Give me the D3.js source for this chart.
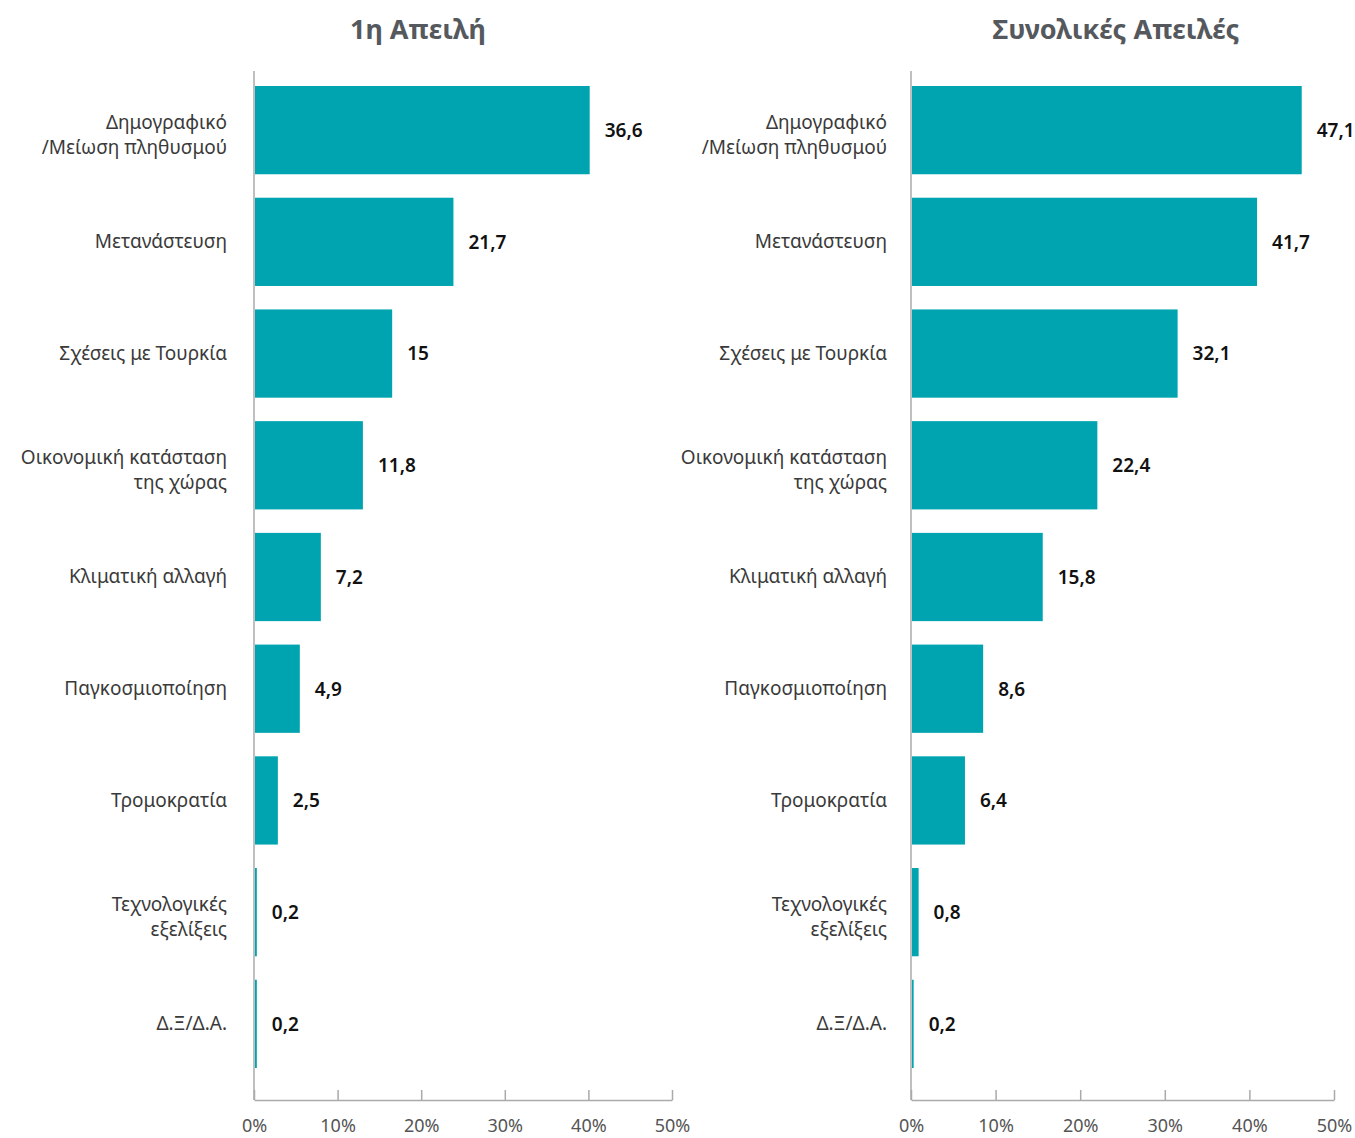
<!DOCTYPE html>
<html>
<head>
<meta charset="utf-8">
<script src="https://cdn.jsdelivr.net/npm/d3@7"></script>
<style>
  body { margin: 0; background: #fff; }
  svg text { font-family: "Noto Sans", "Open Sans", sans-serif; }
</style>
</head>
<body>
<div id="chart"></div>
<script>
// categories (line breaks as in the original labels)
const categories = [
  ["Δημογραφικό", "/Μείωση πληθυσμού"],
  ["Μετανάστευση"],
  ["Σχέσεις με Τουρκία"],
  ["Οικονομική κατάσταση", "της χώρας"],
  ["Κλιματική αλλαγή"],
  ["Παγκοσμιοποίηση"],
  ["Τρομοκρατία"],
  ["Τεχνολογικές", "εξελίξεις"],
  ["Δ.Ξ/Δ.Α."]
];
const firstThreat = [36.6, 21.7, 15, 11.8, 7.2, 4.9, 2.5, 0.2, 0.2];
const totalThreats = [47.1, 41.7, 32.1, 22.4, 15.8, 8.6, 6.4, 0.8, 0.2];
const axisTicks = [0, 10, 20, 30, 40, 50];
const titles = ["1η Απειλή", "Συνολικές Απειλές"];

const W = 1355, H = 1138;
const barColor = "#00a4b0";
const axisColor = "#aaaaaa";
const fmt = d => String(d).replace(".", ",");

const svg = d3.select("#chart")
  .append("svg")
    .attr("width", W)
    .attr("height", H);

// vertical band scale shared by both panels
const y = d3.scaleBand()
  .domain(d3.range(categories.length))
  .range([86, 1068])
  .paddingInner(0.21)
  .paddingOuter(0);

const axisTop = 71, axisBottom = 1100;

// draw one panel; barMax = value reaching the 50% tick in the original drawing
const drawPanel = (x0, x1, titleX, labelGap, title, values, barMax) => {
  const g = svg.append("g");

  // scale for axis ticks
  const xAxis = d3.scaleLinear().domain([0, 50]).range([x0, x1]);
  // scale used for the bars (original bars are stretched against the axis)
  const xBar = d3.scaleLinear().domain([0, barMax]).range([x0 + 1, x1]);

  // title
  g.append("text")
    .attr("x", titleX)
    .attr("y", 39)
    .attr("text-anchor", "middle")
    .style("font-size", "27px")
    .style("font-weight", "bold")
    .style("fill", "#55595e")
    .text(title);

  // bars
  g.append("g")
    .selectAll("rect")
    .data(values)
    .join("rect")
      .attr("x", xBar(0))
      .attr("y", (d, i) => y(i))
      .attr("width", d => xBar(d) - xBar(0))
      .attr("height", y.bandwidth())
      .attr("fill", barColor);

  // value labels
  g.append("g")
    .selectAll("text")
    .data(values)
    .join("text")
      .attr("x", d => xBar(d) + 15)
      .attr("y", (d, i) => y(i) + y.bandwidth() / 2)
      .attr("dy", "0.36em")
      .style("font-size", "19px")
      .style("font-weight", "600")
      .style("fill", "#111")
      .text(fmt);

  // category labels
  const labels = g.append("g")
    .selectAll("text")
    .data(categories)
    .join("text")
      .attr("text-anchor", "end")
      .attr("y", (d, i) => y(i) + y.bandwidth() / 2)
      .style("font-size", "19px")
      .style("fill", "#3a3a3a");
  labels.selectAll("tspan")
    .data(d => d.map((t, k) => ({t, k, n: d.length})))
    .join("tspan")
      .attr("x", x0 - labelGap)
      .attr("dy", d => d.k === 0 ? (d.n === 1 ? "0.34em" : "-0.05em") : "1.3em")
      .text(d => d.t);

  // vertical axis line
  g.append("line")
    .attr("x1", x0).attr("x2", x0)
    .attr("y1", axisTop).attr("y2", axisBottom)
    .attr("stroke", axisColor)
    .attr("stroke-width", 1.5);

  // bottom axis
  const ax = g.append("g")
    .attr("transform", `translate(0, ${axisBottom})`)
    .call(d3.axisBottom(xAxis)
      .tickValues(axisTicks)
      .tickSize(-10)
      .tickSizeOuter(0)
      .tickPadding(19)
      .tickFormat(d => d + "%"));
  ax.select(".domain").attr("stroke", axisColor).attr("stroke-width", 1.5);
  ax.selectAll(".tick line").attr("stroke", axisColor).attr("stroke-width", 1.5);
  ax.selectAll(".tick text")
    .style("font-size", "18px")
    .style("fill", "#555")
    .style("font-family", '"Noto Sans", sans-serif');
};

drawPanel(254, 672, 418, 27, titles[0], firstThreat, 45.6);
drawPanel(911, 1334, 1116, 24, titles[1], totalThreats, 51.0);
</script>
</body>
</html>
